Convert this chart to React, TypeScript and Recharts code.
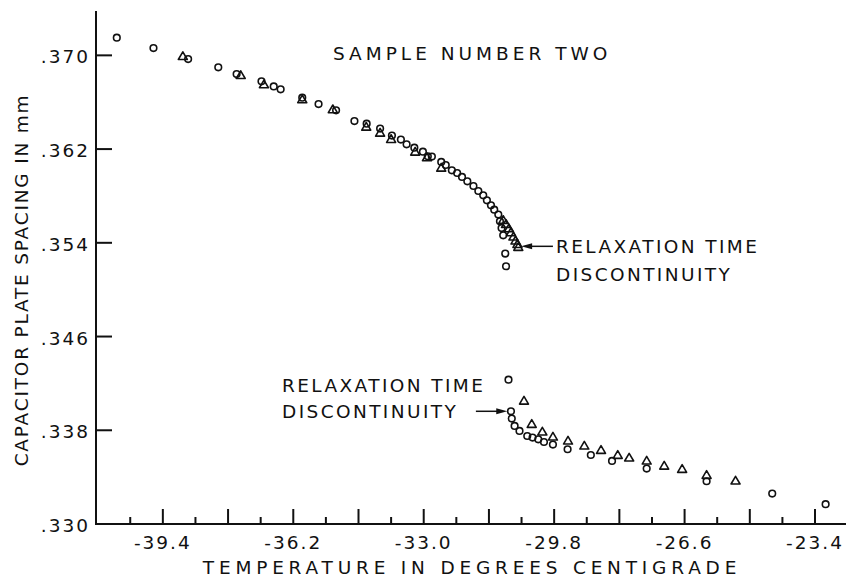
import React from "react";
import { ScatterChart, Scatter, XAxis, YAxis, ReferenceLine } from "recharts";

// Plate spacing (mm) vs temperature (°C); circles and triangles are the two runs
const circleTemp = [
  -40.53, -39.63, -38.78, -38.04, -37.59, -36.98, -36.68, -36.51, -35.98, -35.58,
  -35.15, -34.7, -34.4, -34.07, -33.78, -33.56, -33.42, -33.23, -33.02, -32.9,
  -32.8, -32.57, -32.46, -32.31, -32.18, -32.06, -31.93, -31.78, -31.66, -31.54,
  -31.45, -31.35, -31.27, -31.17, -31.13, -31.09, -31.05, -31.0, -30.98,
  -30.92, -30.86, -30.84, -30.77, -30.65, -30.46, -30.33, -30.19, -30.05, -29.83,
  -29.47, -28.9, -28.38, -27.53, -26.06, -24.45, -23.14,
];
const circleSpacing = [
  0.37151, 0.37062, 0.36968, 0.36898, 0.3684, 0.36778, 0.36735, 0.3671, 0.36639, 0.36584,
  0.36531, 0.36439, 0.36417, 0.36375, 0.36315, 0.36281, 0.36241, 0.36212, 0.36178, 0.36138,
  0.36136, 0.3609, 0.36064, 0.36019, 0.35996, 0.35962, 0.35925, 0.35885, 0.35842, 0.35805,
  0.35763, 0.3572, 0.35683, 0.35641, 0.35584, 0.35526, 0.35464, 0.35308, 0.352,
  0.34232, 0.33962, 0.339, 0.33837, 0.33794, 0.33751, 0.33738, 0.33723, 0.337, 0.33678,
  0.33638, 0.33589, 0.33538, 0.33473, 0.33365, 0.3326, 0.33169,
];

const triTemp = [
  -38.91, -37.49, -36.92, -35.98, -35.23, -34.41, -34.07, -33.8, -33.21, -32.92,
  -32.57, -31.05, -30.98, -30.91, -30.86, -30.8, -30.75, -30.7, -30.68,
  -30.54, -30.35, -30.09, -29.83, -29.46, -29.06, -28.65, -28.24, -27.96, -27.53,
  -27.1, -26.66, -26.06, -25.35,
];
const triSpacing = [
  0.36991, 0.36829, 0.3675, 0.36622, 0.36537, 0.36388, 0.36337, 0.36283, 0.36175, 0.36127,
  0.36038, 0.35592, 0.35558, 0.35521, 0.35487, 0.3545, 0.35416, 0.35387, 0.35362,
  0.3405, 0.33851, 0.33786, 0.33743, 0.33709, 0.33666, 0.33629, 0.33587, 0.33564, 0.33538,
  0.33495, 0.33467, 0.33416, 0.33368,
];

const xShortTicks = [-40.2, -38.6, -37.0, -35.4, -33.8, -32.2, -30.6, -29.0, -27.4, -25.8, -24.2];
const xTallTicks = [-39.4, -37.8, -36.2, -34.6, -33.0, -31.4, -29.8, -28.2, -26.6, -25.0, -23.4];
const xLabelTicks = [-39.4, -36.2, -33.0, -29.8, -26.6, -23.4];
const xLabelText = ["-39.4", "-36.2", "-33.0", "-29.8", "-26.6", "-23.4"];
const yTicks = [0.33, 0.338, 0.346, 0.354, 0.362, 0.37];
const yLabelText = [".330", ".338", ".346", ".354", ".362", ".370"];

// arrow segments for the two "relaxation time discontinuity" notes
const upperArrow = { from: [-29.83, 0.3537], to: [-30.61, 0.3537] };
const lowerArrow = { from: [-31.72, 0.33962], to: [-30.95, 0.33962] };

const X_MIN = -41.04;
const X_MAX = -22.64;
const Y_MIN = 0.33;
const Y_MAX = 0.3737;

const INK = "#111";
const FONT = "'DejaVu Sans', 'Liberation Sans', sans-serif";

const circles = circleTemp.map((t, i) => ({ t, s: circleSpacing[i] }));
const triangles = triTemp.map((t, i) => ({ t, s: triSpacing[i] }));

const Ring = (p: any) => (
  <circle cx={p.cx} cy={p.cy} r={3.3} fill="none" stroke={INK} strokeWidth={1.6} />
);

const Tri = (p: any) => (
  <path
    d={`M${p.cx},${p.cy - 4.6}L${p.cx + 4.5},${p.cy + 3.1}L${p.cx - 4.5},${p.cy + 3.1}Z`}
    fill="none"
    stroke={INK}
    strokeWidth={1.6}
    strokeLinejoin="round"
  />
);

// axis frame lines (left and bottom only)
const AxisStroke = (p: any) => (
  <line
    x1={p.x1}
    y1={p.y1}
    x2={p.x2}
    y2={p.y2}
    stroke={INK}
    strokeWidth={2}
    strokeLinecap="square"
  />
);

// temperature tick: rises from the bottom edge, label underneath
const XTickMark = (p: any) => (
  <g>
    <line x1={p.x1} y1={p.y1} x2={p.x1} y2={p.y1 - p.len} stroke={INK} strokeWidth={2} />
    {p.label && (
      <text
        x={p.x1}
        y={p.y1 + 25}
        textAnchor="middle"
        fontFamily={FONT}
        fontSize={18.5}
        letterSpacing={2}
        fill={INK}
      >
        {p.label}
      </text>
    )}
  </g>
);

// spacing tick: runs right from the left edge, label to its left
const YTickMark = (p: any) => (
  <g>
    <line x1={p.x1} y1={p.y1} x2={p.x1 + 16} y2={p.y1} stroke={INK} strokeWidth={2} />
    <text
      x={p.x1 - 6}
      y={p.y1 + 8}
      textAnchor="end"
      fontFamily={FONT}
      fontSize={18.5}
      letterSpacing={2}
      fill={INK}
    >
      {p.label}
    </text>
  </g>
);

const Arrow = (p: any) => {
  const { x1, y1, x2, y2 } = p;
  const dir = x2 > x1 ? 1 : -1;
  return (
    <g>
      <line x1={x1} y1={y1} x2={x2 - dir * 6} y2={y2} stroke={INK} strokeWidth={1.5} />
      <path d={`M${x2},${y2}L${x2 - dir * 11},${y2 - 3}L${x2 - dir * 11},${y2 + 3}Z`} fill={INK} />
    </g>
  );
};

const labelStyle = { fontFamily: FONT, fontSize: 18.5, letterSpacing: 2.4, fill: INK } as const;

export default function App() {
  return (
    <div style={{ position: "absolute", left: 0, top: 0, width: 846, height: 577, background: "#fff" }}>
      <ScatterChart width={846} height={577} margin={{ top: 12, right: 0, bottom: 53, left: 96 }}>
        <XAxis type="number" dataKey="t" domain={[X_MIN, X_MAX]} allowDataOverflow hide />
        <YAxis type="number" dataKey="s" domain={[Y_MIN, Y_MAX]} allowDataOverflow hide />
        <ReferenceLine
          segment={[{ x: X_MIN, y: Y_MIN }, { x: X_MAX, y: Y_MIN }]}
          shape={<AxisStroke />}
        />
        <ReferenceLine
          segment={[{ x: X_MIN, y: Y_MIN }, { x: X_MIN, y: Y_MAX }]}
          shape={<AxisStroke />}
        />
        {xTallTicks.map((t) => {
          const li = xLabelTicks.indexOf(t);
          return (
            <ReferenceLine
              key={`xa${t}`}
              segment={[{ x: t, y: Y_MIN }, { x: t, y: Y_MIN }]}
              shape={<XTickMark len={15} label={li >= 0 ? xLabelText[li] : ""} />}
            />
          );
        })}
        {xShortTicks.map((t) => (
          <ReferenceLine
            key={`xb${t}`}
            segment={[{ x: t, y: Y_MIN }, { x: t, y: Y_MIN }]}
            shape={<XTickMark len={7} label="" />}
          />
        ))}
        {yTicks.map((v, i) => (
          <ReferenceLine
            key={`y${v}`}
            segment={[{ x: X_MIN, y: v }, { x: X_MIN, y: v }]}
            shape={<YTickMark label={yLabelText[i]} />}
          />
        ))}
        <Scatter data={circles} shape={<Ring />} isAnimationActive={false} />
        <Scatter data={triangles} shape={<Tri />} isAnimationActive={false} />
        <ReferenceLine
          segment={[{ x: upperArrow.from[0], y: upperArrow.from[1] }, { x: upperArrow.to[0], y: upperArrow.to[1] }]}
          shape={<Arrow />}
        />
        <ReferenceLine
          segment={[{ x: lowerArrow.from[0], y: lowerArrow.from[1] }, { x: lowerArrow.to[0], y: lowerArrow.to[1] }]}
          shape={<Arrow />}
        />
      </ScatterChart>
      <svg width={846} height={577} style={{ position: "absolute", left: 0, top: 0, pointerEvents: "none" }}>
        <text x={333} y={60} {...labelStyle} letterSpacing={4}>SAMPLE NUMBER TWO</text>
        <text x={556} y={253} {...labelStyle}>RELAXATION TIME</text>
        <text x={556} y={281} {...labelStyle}>DISCONTINUITY</text>
        <text x={282} y={392} {...labelStyle}>RELAXATION TIME</text>
        <text x={282} y={418} {...labelStyle}>DISCONTINUITY</text>
        <text x={472} y={574} textAnchor="middle" {...labelStyle} letterSpacing={4.8}>
          TEMPERATURE IN DEGREES CENTIGRADE
        </text>
        <text x={28} y={280} transform="rotate(-90 28 280)" textAnchor="middle" {...labelStyle} letterSpacing={1.8}>
          CAPACITOR PLATE SPACING IN mm
        </text>
      </svg>
    </div>
  );
}
